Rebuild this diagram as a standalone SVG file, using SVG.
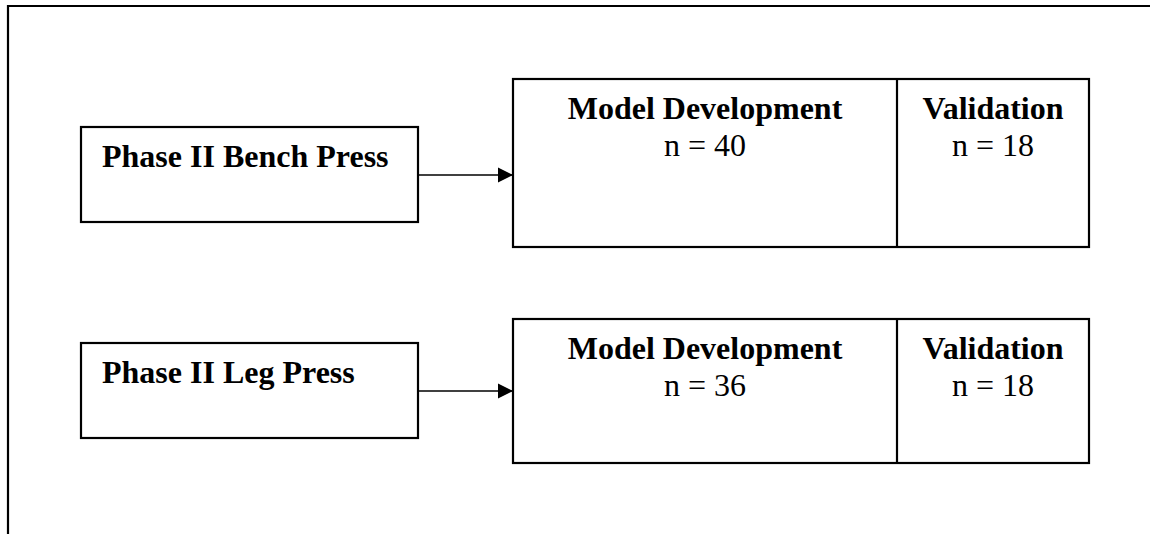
<svg xmlns="http://www.w3.org/2000/svg" width="1150" height="534" viewBox="0 0 1150 534">
<defs>
<style>
.box{fill:#fff;stroke:#000;stroke-width:2.2}
.frame{fill:none;stroke:#000;stroke-width:2.2}
.conn{fill:none;stroke:#000;stroke-width:1.5}
.b{font-family:"Liberation Serif","Times New Roman",serif;font-weight:bold;font-size:32px;fill:#000}
.r{font-family:"Liberation Serif","Times New Roman",serif;font-size:32px;fill:#000}
</style>
<marker id="arr" markerUnits="userSpaceOnUse" markerWidth="16" markerHeight="16" viewBox="0 0 16 16" refX="15" refY="8" orient="auto">
<path d="M0,0.5 L15,8 L0,15.5 Z" fill="#000"/>
</marker>
</defs>
<rect width="1150" height="534" fill="#fff"/>
<path class="frame" d="M8,534 V6 H1150"/>
<g id="bench">
<rect class="box" x="81" y="127" width="337" height="95"/>
<text class="b" x="102" y="167">Phase II Bench Press</text>
</g>
<g id="bench-split">
<rect class="box" x="513" y="79" width="576" height="168"/>
<line class="box" x1="897" y1="79" x2="897" y2="247"/>
<text class="b" x="705" y="119" text-anchor="middle">Model Development</text>
<text class="r" x="705" y="156" text-anchor="middle">n = 40</text>
<text class="b" x="993" y="119" text-anchor="middle">Validation</text>
<text class="r" x="993" y="156" text-anchor="middle">n = 18</text>
</g>
<g id="leg">
<rect class="box" x="81" y="343" width="337" height="95"/>
<text class="b" x="102" y="383">Phase II Leg Press</text>
</g>
<g id="leg-split">
<rect class="box" x="513" y="319" width="576" height="144"/>
<line class="box" x1="897" y1="319" x2="897" y2="463"/>
<text class="b" x="705" y="359" text-anchor="middle">Model Development</text>
<text class="r" x="705" y="396" text-anchor="middle">n = 36</text>
<text class="b" x="993" y="359" text-anchor="middle">Validation</text>
<text class="r" x="993" y="396" text-anchor="middle">n = 18</text>
</g>
<g id="connectors">
<line class="conn" x1="418" y1="175" x2="513" y2="175" marker-end="url(#arr)"/>
<line class="conn" x1="418" y1="391" x2="513" y2="391" marker-end="url(#arr)"/>
</g>
</svg>
